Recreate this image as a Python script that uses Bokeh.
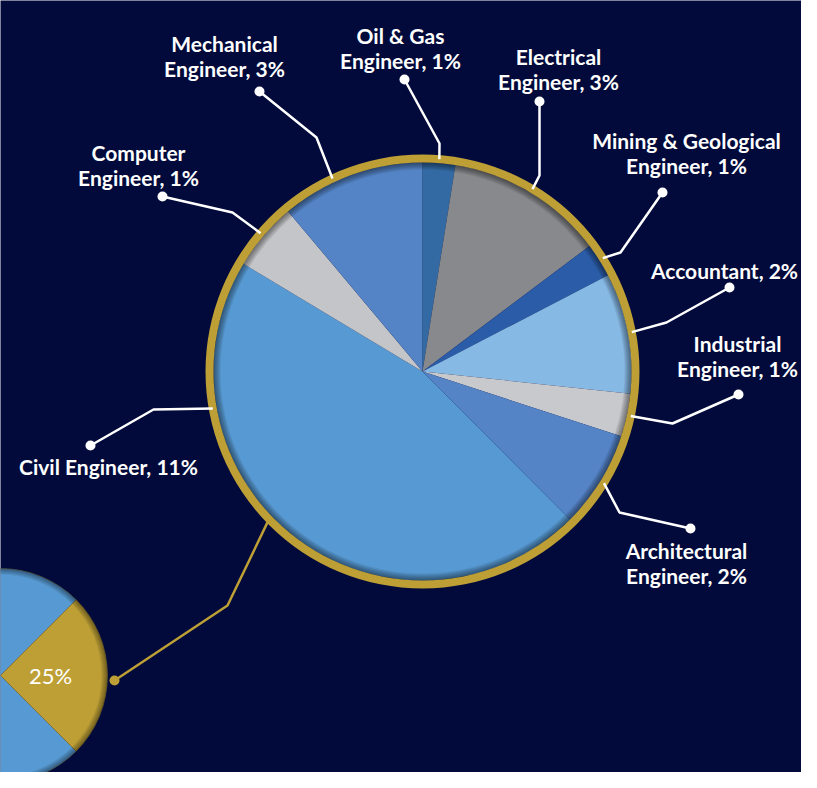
import math
from bokeh.plotting import figure
from bokeh.models import Range1d
from bokeh.core.properties import value
from bokeh.embed import file_html
from bokeh.resources import INLINE

# ---------------- data ----------------
categories = ["Oil & Gas\nEngineer", "Electrical\nEngineer", "Mining & Geological\nEngineer",
              "Accountant", "Industrial\nEngineer", "Architectural\nEngineer",
              "Civil Engineer", "Computer\nEngineer", "Mechanical\nEngineer"]
shares = [0.63, 3.06, 0.66, 2.33, 0.83, 1.88, 11.53, 1.32, 2.78]   # % of all
label_pcts = [1, 3, 1, 2, 1, 2, 11, 1, 3]
slice_colors = ["#336aa4", "#88898d", "#2b5ca8", "#87b9e5", "#c8c9cc",
                "#5483c6", "#5799d2", "#c4c5c8", "#5484c6"]
outer_names = ["Others", "Engineers & Accountants"]
outer_values = [75, 25]
outer_colors = ["#5799d2", "#bd9f36"]

# ---------------- layout ----------------
BG = "#010a3a"
GOLD = "#bd9f36"
W, H = 801, 772
cx, cy, R = 422, -371, 209
scx, scy, sR = 0, -675, 107

p = figure(width=W, height=H, output_backend="svg", toolbar_location=None,
           x_range=Range1d(0, W), y_range=Range1d(-H, 0),
           min_border=0, background_fill_color=BG, border_fill_color=BG,
           outline_line_color=None)
p.axis.visible = False
p.grid.visible = False

rad = math.radians

# big pie wedges (clockwise from top)
total = sum(shares)
starts, ends, mids = [], [], []
acc = 0.0
for s in shares:
    a0 = acc / total * 360
    acc += s
    a1 = acc / total * 360
    starts.append(rad(90 - a0))
    ends.append(rad(90 - a1))
    mids.append((a0 + a1) / 2)
p.wedge(x=[cx] * len(shares), y=[cy] * len(shares), radius=R,
        start_angle=starts, end_angle=ends, direction="clock",
        fill_color=slice_colors, line_color=None)
# inner shadow
for i in range(7):
    p.annulus(x=cx, y=cy, inner_radius=R - 1 - i, outer_radius=R,
              fill_color="black", fill_alpha=0.07, line_color=None)
# gold ring
p.annulus(x=cx, y=cy, inner_radius=R, outer_radius=R + 8,
          fill_color=GOLD, line_color=None)

# small pie
ototal = sum(outer_values)
half = outer_values[1] / ototal * 360 / 2
p.wedge(x=[scx, scx], y=[scy, scy], radius=sR,
        start_angle=[rad(-half), rad(half)], end_angle=[rad(half), rad(-half)],
        direction="clock", fill_color=outer_colors, line_color="#7a6a30", line_width=0.5)
for i in range(6):
    p.annulus(x=scx, y=scy, inner_radius=sR - 1 - i, outer_radius=sR,
              fill_color="black", fill_alpha=0.07, line_color=None)
p.text(x=[scx + 50], y=[scy], text=[f"{outer_values[1]}%"], text_color="white",
       text_font=value("Lato"), text_font_size="22px", text_align="center",
       text_baseline="middle")

# connector between pies
gang = math.radians(226)
gx0 = cx + (R + 5) * math.sin(gang)
gy0 = cy + (R + 5) * math.cos(gang)
p.line(x=[gx0, 227, 114], y=[gy0, -605, -680], line_color=GOLD, line_width=2.5)
p.scatter(x=[114], y=[-680], size=10, fill_color=GOLD, line_color=None)

# leader lines + labels
anchor_override = {6: 260, 8: 335}
elbows = [(439, -143), (539, -175), (620, -252), (666, -322), (672, -423),
          (619, -512), (153, -409), (232, -212), (316, -137)]
dots = [(404, -79), (539, -101), (662, -192), (729, -287), (738, -394),
        (690, -528), (90, -445), (162, -196), (259, -91)]
label_pos = [(400, -35), (558, -56), (686, -140), (724, -270), (737, -343),
             (686, -550), (108, -466), (138, -152), (224, -43)]

for i in range(len(categories)):
    ang = math.radians(anchor_override.get(i, mids[i]))
    sx = cx + (R + 4) * math.sin(ang)
    sy = cy + (R + 4) * math.cos(ang)
    ex, ey = elbows[i]
    dx, dy = dots[i]
    p.line(x=[sx, ex, dx], y=[sy, ey, dy], line_color="white", line_width=2.5)
    p.scatter(x=[dx], y=[dy], size=10, fill_color="white", line_color=None)

tx, ty, tt = [], [], []
for i, name in enumerate(categories):
    lines = (name + f", {label_pcts[i]}%").split("\n")
    lx, ly = label_pos[i]
    for k, ln in enumerate(lines):
        tx.append(lx)
        ty.append(ly - 25 * k)
        tt.append(ln)
p.text(x=tx, y=ty, text=tt, text_color="white", text_font=value("Lato"),
       text_font_size="21px", text_font_style="bold", text_align="center",
       text_baseline="middle")

open("out.html", "w").write(file_html(p, INLINE))
